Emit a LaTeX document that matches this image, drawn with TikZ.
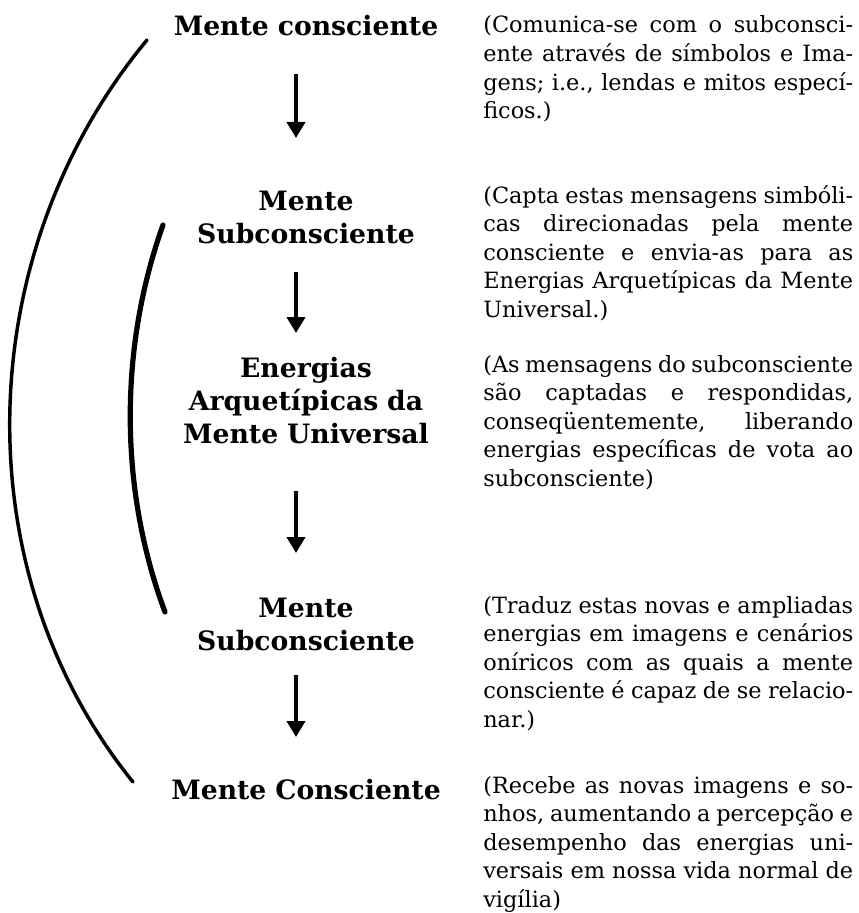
\documentclass[tikz,border=0pt]{standalone}
\usepackage{fontspec}
\setmainfont{DejaVu Serif}
\usetikzlibrary{arrows.meta}
\tolerance=10000
\frenchspacing

\begin{document}
\begin{tikzpicture}[x=0.75pt,y=0.75pt,yscale=-1,xscale=1,
  titulo/.style={anchor=base,inner sep=0pt,text width=300pt,align=center,font=\fontsize{20}{25}\selectfont\bfseries},
  texto/.style={anchor=base west,inner sep=0pt,text width=277.5pt,align=justify,font=\fontsize{16.8}{21.4}\selectfont},
  seta/.style={line width=3.4pt,-{Triangle[length=12pt,width=13.5pt]}},
  arco/.style={line cap=round}]
%uncomment if require: \path (0,913); %set diagram left start at 0, and has height of 913
\useasboundingbox (0,0) rectangle (859,913);

%Shape: Arc [id:outer]
\draw [arco][line width=2.6pt]  (147,40) .. controls (-28,251) and (-39,569) .. (133,782) ;
%Shape: Arc [id:inner]
\draw [arco][line width=3.9pt]  (163,225) .. controls (119,348) and (119,489) .. (165,612) ;

% Text Node
\node [titulo] (mc1) at (306,36) {Mente consciente};
% Text Node
\node [titulo] (ms1) at (306,210) {Mente\\Subconsciente};
% Text Node
\node [titulo] (eamu) at (306,377) {Energias\\Arquetípicas da\\Mente Universal};
% Text Node
\node [titulo] (ms2) at (306,617) {Mente\\Subconsciente};
% Text Node
\node [titulo] (mc2) at (306,799) {Mente Consciente};

%Straight Lines [id:arrows]
\coordinate (s1) at (296,74);  \coordinate (e1) at (296,138);
\coordinate (s2) at (296,272); \coordinate (e2) at (296,333);
\coordinate (s3) at (296,491); \coordinate (e3) at (296,553);
\coordinate (s4) at (296,675); \coordinate (e4) at (296,737);
\draw [seta] (s1) -- (e1) ;
\draw [seta] (s2) -- (e2) ;
\draw [seta] (s3) -- (e3) ;
\draw [seta] (s4) -- (e4) ;

% Text Node
\node [texto] (t1) at (483,33) {(Comunica-se com o subconsci-\linebreak ente através de símbolos e Ima-\linebreak gens; i.e., lendas e mitos especí-\linebreak ficos.)};
% Text Node
\node [texto] (t2) at (483,203) {(Capta estas mensagens simbóli-\linebreak cas direcionadas pela mente\linebreak consciente e envia-as para as\linebreak Energias Arquetípicas da Mente\linebreak Universal.)};
% Text Node
\node [texto] (t3) at (483,372) {(As mensagens do subconsciente\linebreak são captadas e respondidas,\linebreak conseqüentemente, liberando\linebreak energias específicas de vota ao\linebreak subconsciente)};
% Text Node
\node [texto] (t4) at (483,613) {(Traduz estas novas e ampliadas\linebreak energias em imagens e cenários\linebreak oníricos com as quais a mente\linebreak consciente é capaz de se relacio-\linebreak nar.)};
% Text Node
\node [texto] (t5) at (483,793) {(Recebe as novas imagens e so-\linebreak nhos, aumentando a percepção e\linebreak desempenho das energias uni-\linebreak versais em nossa vida normal de\linebreak vigília)};

\end{tikzpicture}
\end{document}
